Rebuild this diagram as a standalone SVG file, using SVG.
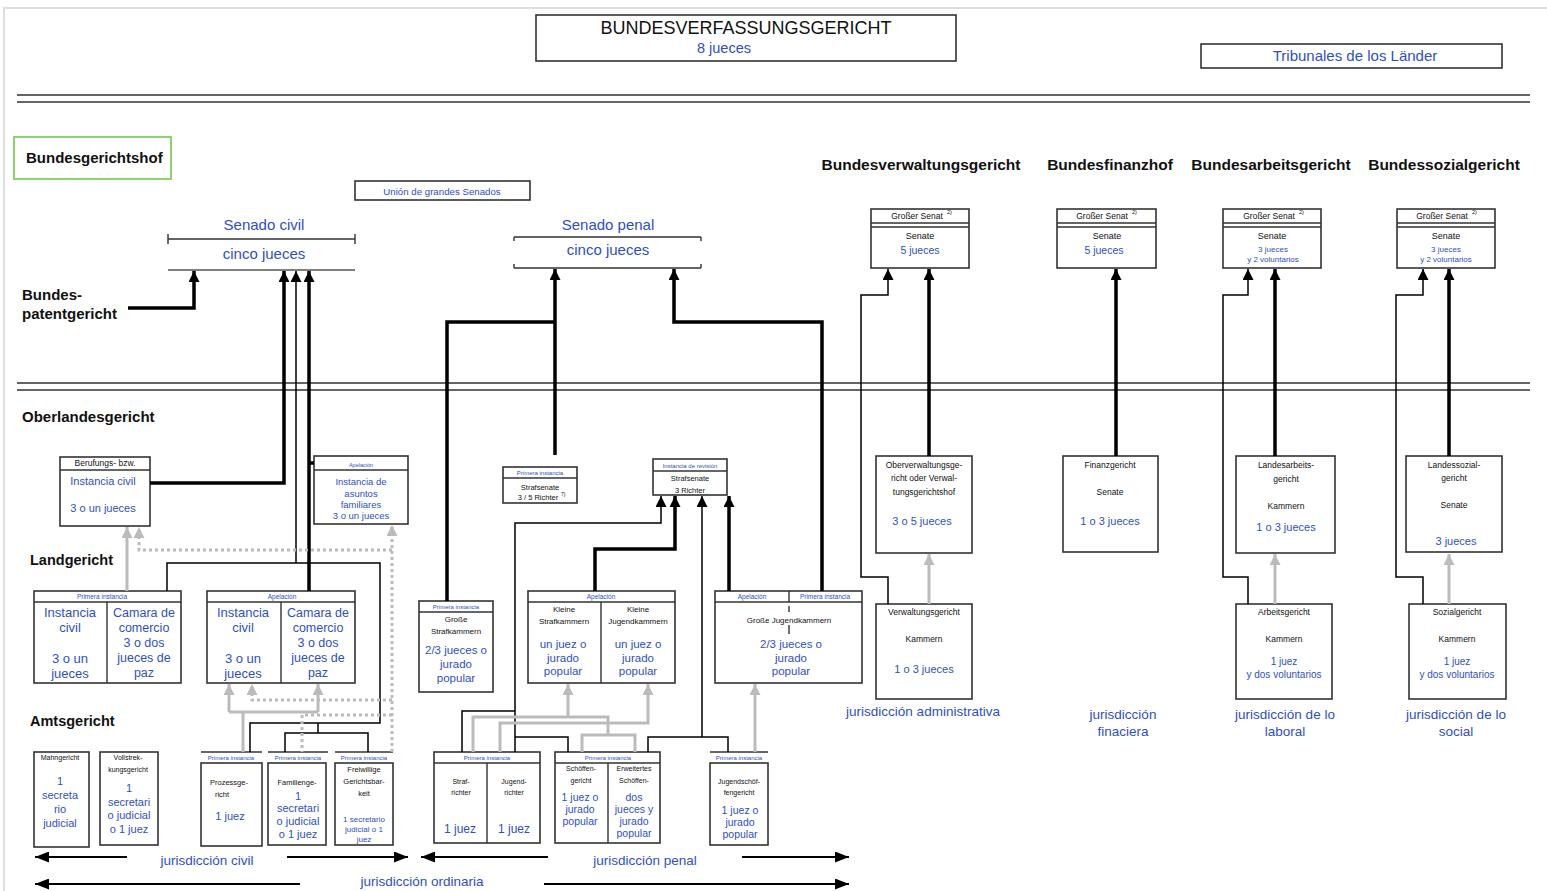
<svg xmlns="http://www.w3.org/2000/svg" width="1547" height="891" viewBox="0 0 1547 891">
<style>
text{font-family:"Liberation Sans",Arial,sans-serif}
.bx{fill:#fff;stroke:#333;stroke-width:1.6}
.ln{fill:none;stroke:#333;stroke-width:1.4}
.bl{fill:#2f4fbf}
.k{fill:#111}
.c{text-anchor:middle}
.bd{font-weight:bold;fill:#111}
.thk{fill:none;stroke:#000;stroke-width:3.5}
.thn{fill:none;stroke:#000;stroke-width:1.5}
.gr{fill:none;stroke:#bbb;stroke-width:3}
.gd{fill:none;stroke:#bbb;stroke-width:3;stroke-dasharray:3 3}
.ja{fill:none;stroke:#000;stroke-width:2}
</style>
<defs>
<marker id="ab" viewBox="0 0 10 10" refX="10" refY="5" markerWidth="11" markerHeight="11" markerUnits="userSpaceOnUse" orient="auto"><path d="M0,0L10,5L0,10z" fill="#000"/></marker>
<marker id="ag" viewBox="0 0 10 10" refX="10" refY="5" markerWidth="11" markerHeight="11" markerUnits="userSpaceOnUse" orient="auto"><path d="M0,0L10,5L0,10z" fill="#bbb"/></marker>
<marker id="aj" viewBox="0 0 10 10" refX="10" refY="5" markerWidth="14" markerHeight="11" markerUnits="userSpaceOnUse" orient="auto" preserveAspectRatio="none"><path d="M0,0L10,5L0,10z" fill="#000"/></marker>
</defs>
<rect width="1547" height="891" fill="#fff"/>
<path d="M4,891V8H1547" fill="none" stroke="#ddd" stroke-width="2"/>

<g id="bverfg">
<rect class="bx" x="536" y="15" width="420" height="46"/>
<text class="k c" x="746" y="34" font-size="18">BUNDESVERFASSUNGSGERICHT</text>
<text class="bl c" x="724" y="53" font-size="14.5">8 jueces</text>
</g>
<g id="laender">
<rect class="bx" x="1201" y="44" width="301" height="24"/>
<text class="bl c" x="1355" y="61" font-size="15">Tribunales de los Länder</text>
</g>
<g id="separators">
<path class="ln" d="M17,95H1530M17,102H1530M17,383H1530M17,390H1530"/>
</g>

<g id="bgh">
<rect x="14" y="137" width="157" height="42" fill="#fff" stroke="#8fd16a" stroke-width="2"/>
<text class="bd" x="26" y="163" font-size="15">Bundesgerichtshof</text>
</g>
<g id="union">
<rect class="bx" x="355" y="181" width="175" height="19"/>
<text class="bl c" x="442" y="195" font-size="9.7">Unión de grandes Senados</text>
</g>
<g id="senado-civil">
<text class="bl c" x="264" y="230" font-size="15">Senado civil</text>
<path class="ln" d="M168,239H355M168,234V244M355,234V244"/>
<text class="bl c" x="264" y="259" font-size="15">cinco jueces</text>
<path d="M168,270H355" fill="none" stroke="#555" stroke-width="1.3"/>
</g>
<g id="senado-penal">
<text class="bl c" x="608" y="230" font-size="15">Senado penal</text>
<path class="ln" d="M514,237H701M514,237V241M701,237V241"/>
<text class="bl c" x="608" y="255" font-size="15">cinco jueces</text>
<path class="ln" d="M514,268H701M514,264V268M701,264V268"/>
</g>
<g id="bpatg">
<text class="bd" x="22" y="300" font-size="15">Bundes-</text>
<text class="bd" x="22" y="319" font-size="15">patentgericht</text>
</g>
<g id="labels-left">
<text class="bd" x="22" y="422" font-size="15">Oberlandesgericht</text>
<text class="bd" x="30" y="565" font-size="14.5">Landgericht</text>
<text class="bd" x="30" y="726" font-size="14.5">Amtsgericht</text>
</g>

<g id="headers-right">
<text class="bd c" x="921" y="170" font-size="15.5">Bundesverwaltungsgericht</text>
<text class="bd c" x="1110" y="170" font-size="15.5">Bundesfinanzhof</text>
<text class="bd c" x="1271" y="170" font-size="15.5">Bundesarbeitsgericht</text>
<text class="bd c" x="1444" y="170" font-size="15.5">Bundessozialgericht</text>
</g>

<g id="gs-bverwg">
<rect class="bx" x="871" y="209" width="98" height="59"/>
<path class="ln" d="M871,223H969M871,227H969"/>
<text class="k c" x="917" y="219" font-size="8.5">Großer Senat</text><text class="k" x="947" y="214" font-size="5.5">2)</text>
<text class="k c" x="920" y="239" font-size="9">Senate</text>
<text class="bl c" x="920" y="254" font-size="10.5">5 jueces</text>
</g>
<g id="gs-bfh">
<rect class="bx" x="1057" y="209" width="99" height="59"/>
<path class="ln" d="M1057,223H1156M1057,227H1156"/>
<text class="k c" x="1102" y="219" font-size="8.5">Großer Senat</text><text class="k" x="1132" y="214" font-size="5.5">2)</text>
<text class="k c" x="1107" y="239" font-size="9">Senate</text>
<text class="bl c" x="1104" y="254" font-size="10.5">5 jueces</text>
</g>
<g id="gs-bag">
<rect class="bx" x="1223" y="209" width="98" height="59"/>
<path class="ln" d="M1223,223H1321M1223,227H1321"/>
<text class="k c" x="1269" y="219" font-size="8.5">Großer Senat</text><text class="k" x="1299" y="214" font-size="5.5">2)</text>
<text class="k c" x="1272" y="239" font-size="9">Senate</text>
<text class="bl c" x="1273" y="252" font-size="8">3 jueces</text>
<text class="bl c" x="1273" y="262" font-size="8">y 2 voluntarios</text>
</g>
<g id="gs-bsg">
<rect class="bx" x="1397" y="209" width="98" height="59"/>
<path class="ln" d="M1397,223H1495M1397,227H1495"/>
<text class="k c" x="1442" y="219" font-size="8.5">Großer Senat</text><text class="k" x="1472" y="214" font-size="5.5">2)</text>
<text class="k c" x="1446" y="239" font-size="9">Senate</text>
<text class="bl c" x="1446" y="252" font-size="8">3 jueces</text>
<text class="bl c" x="1446" y="262" font-size="8">y 2 voluntarios</text>
</g>

<g id="ovg">
<rect class="bx" x="876" y="456" width="96" height="97"/>
<text class="k c" x="924" y="468" font-size="8.5">Oberverwaltungsge-</text>
<text class="k c" x="924" y="481" font-size="8.5">richt oder Verwal-</text>
<text class="k c" x="924" y="495" font-size="8.5">tungsgerichtshof</text>
<text class="bl c" x="922" y="525" font-size="11">3 o 5 jueces</text>
</g>
<g id="fg">
<rect class="bx" x="1063" y="456" width="95" height="96"/>
<text class="k c" x="1110" y="468" font-size="8.5">Finanzgericht</text>
<text class="k c" x="1110" y="495" font-size="8.5">Senate</text>
<text class="bl c" x="1110" y="525" font-size="11">1 o 3 jueces</text>
</g>
<g id="lag">
<rect class="bx" x="1236" y="456" width="99" height="97"/>
<text class="k c" x="1286" y="468" font-size="8.5">Landesarbeits-</text>
<text class="k c" x="1286" y="482" font-size="8.5">gericht</text>
<text class="k c" x="1286" y="509" font-size="8.5">Kammern</text>
<text class="bl c" x="1286" y="531" font-size="11">1 o 3 jueces</text>
</g>
<g id="lsg">
<rect class="bx" x="1406" y="456" width="96" height="96"/>
<text class="k c" x="1454" y="468" font-size="8.5">Landessozial-</text>
<text class="k c" x="1454" y="481" font-size="8.5">gericht</text>
<text class="k c" x="1454" y="508" font-size="8.5">Senate</text>
<text class="bl c" x="1456" y="545" font-size="11">3 jueces</text>
</g>
<g id="vg">
<rect class="bx" x="876" y="604" width="96" height="95"/>
<text class="k c" x="924" y="615" font-size="8.5">Verwaltungsgericht</text>
<text class="k c" x="924" y="642" font-size="8.5">Kammern</text>
<text class="bl c" x="924" y="673" font-size="11">1 o 3 jueces</text>
</g>
<g id="arbg">
<rect class="bx" x="1236" y="604" width="96" height="95"/>
<text class="k c" x="1284" y="615" font-size="8.5">Arbeitsgericht</text>
<text class="k c" x="1284" y="642" font-size="8.5">Kammern</text>
<text class="bl c" x="1284" y="665" font-size="10">1 juez</text>
<text class="bl c" x="1284" y="678" font-size="10">y dos voluntarios</text>
</g>
<g id="sozg">
<rect class="bx" x="1409" y="604" width="97" height="95"/>
<text class="k c" x="1457" y="615" font-size="8.5">Sozialgericht</text>
<text class="k c" x="1457" y="642" font-size="8.5">Kammern</text>
<text class="bl c" x="1457" y="665" font-size="10">1 juez</text>
<text class="bl c" x="1457" y="678" font-size="10">y dos voluntarios</text>
</g>
<g id="jur-right">
<text class="bl c" x="923" y="716" font-size="13.5">jurisdicción administrativa</text>
<text class="bl c" x="1123" y="719" font-size="13.5">jurisdicción</text>
<text class="bl c" x="1123" y="736" font-size="13.5">finaciera</text>
<text class="bl c" x="1285" y="719" font-size="13.5">jurisdicción de lo</text>
<text class="bl c" x="1285" y="736" font-size="13.5">laboral</text>
<text class="bl c" x="1456" y="719" font-size="13.5">jurisdicción de lo</text>
<text class="bl c" x="1456" y="736" font-size="13.5">social</text>
</g>

<g id="olg-berufung">
<rect class="bx" x="60" y="457" width="90" height="69"/>
<path class="ln" d="M60,470H150"/>
<text class="k c" x="105" y="466" font-size="8.5">Berufungs- bzw.</text>
<text class="bl c" x="103" y="485" font-size="11">Instancia civil</text>
<text class="bl c" x="103" y="512" font-size="11">3 o un jueces</text>
</g>
<g id="olg-familia">
<rect class="bx" x="314" y="456" width="94" height="68"/>
<path class="ln" d="M314,470H408"/>
<text class="bl c" x="361" y="467" font-size="5.5">Apelación</text>
<text class="bl c" x="361" y="485" font-size="9.5">Instancia de</text>
<text class="bl c" x="361" y="497" font-size="9.5">asuntos</text>
<text class="bl c" x="361" y="508" font-size="9.5">familiares</text>
<text class="bl c" x="361" y="519" font-size="9.5">3 o un jueces</text>
</g>
<g id="olg-strafsenate">
<rect class="bx" x="503" y="467" width="74" height="36"/>
<path class="ln" d="M503,478H577"/>
<text class="bl c" x="540" y="475" font-size="6">Primera instancia</text>
<text class="k c" x="540" y="490" font-size="7.5">Strafsenate</text>
<text class="k c" x="538" y="500" font-size="7.5">3 / 5 Richter</text><text class="k" x="561" y="496" font-size="5">7)</text>
</g>
<g id="olg-revision">
<rect class="bx" x="653" y="459" width="74" height="36"/>
<path class="ln" d="M653,471H727"/>
<text class="bl c" x="690" y="468" font-size="6">Instancia de revisión</text>
<text class="k c" x="690" y="481" font-size="7.5">Strafsenate</text>
<text class="k c" x="690" y="493" font-size="7.5">3 Richter</text>
</g>

<g id="lg-primera">
<rect class="bx" x="34" y="591" width="147" height="92"/>
<path class="ln" d="M34,602H181M107,602V683"/>
<text class="bl c" x="102" y="599" font-size="6.5">Primera instancia</text>
<text class="bl c" x="70" y="617" font-size="13">Instancia</text>
<text class="bl c" x="70" y="632" font-size="13">civil</text>
<text class="bl c" x="70" y="663" font-size="13">3 o un</text>
<text class="bl c" x="70" y="678" font-size="13">jueces</text>
<text class="bl c" x="144" y="617" font-size="12.5">Camara de</text>
<text class="bl c" x="144" y="632" font-size="12.5">comercio</text>
<text class="bl c" x="144" y="647" font-size="12.5">3 o dos</text>
<text class="bl c" x="144" y="662" font-size="12.5">jueces de</text>
<text class="bl c" x="144" y="677" font-size="12.5">paz</text>
</g>
<g id="lg-apelacion">
<rect class="bx" x="207" y="591" width="148" height="92"/>
<path class="ln" d="M207,602H355M281,602V683"/>
<text class="bl c" x="282" y="599" font-size="6.5">Apelación</text>
<text class="bl c" x="243" y="617" font-size="13">Instancia</text>
<text class="bl c" x="243" y="632" font-size="13">civil</text>
<text class="bl c" x="243" y="663" font-size="13">3 o un</text>
<text class="bl c" x="243" y="678" font-size="13">jueces</text>
<text class="bl c" x="318" y="617" font-size="12.5">Camara de</text>
<text class="bl c" x="318" y="632" font-size="12.5">comercio</text>
<text class="bl c" x="318" y="647" font-size="12.5">3 o dos</text>
<text class="bl c" x="318" y="662" font-size="12.5">jueces de</text>
<text class="bl c" x="318" y="677" font-size="12.5">paz</text>
</g>
<g id="lg-grosse-straf">
<rect class="bx" x="419" y="601" width="74" height="91"/>
<path class="ln" d="M419,612H493"/>
<text class="bl c" x="456" y="609" font-size="6">Primera instancia</text>
<text class="k c" x="456" y="622" font-size="8">Große</text>
<text class="k c" x="456" y="634" font-size="8">Strafkammern</text>
<text class="bl c" x="456" y="654" font-size="11.5">2/3 jueces o</text>
<text class="bl c" x="456" y="668" font-size="11.5">jurado</text>
<text class="bl c" x="456" y="682" font-size="11.5">popular</text>
</g>
<g id="lg-kleine">
<rect class="bx" x="528" y="591" width="147" height="92"/>
<path class="ln" d="M528,602H675M601,602V683"/>
<text class="bl c" x="601" y="599" font-size="6.5">Apelación</text>
<text class="k c" x="564" y="612" font-size="8">Kleine</text>
<text class="k c" x="564" y="624" font-size="8">Strafkammern</text>
<text class="bl c" x="563" y="648" font-size="11.5">un juez o</text>
<text class="bl c" x="563" y="662" font-size="11.5">jurado</text>
<text class="bl c" x="563" y="675" font-size="11.5">popular</text>
<text class="k c" x="638" y="612" font-size="8">Kleine</text>
<text class="k c" x="638" y="624" font-size="8">Jugendkammern</text>
<text class="bl c" x="638" y="648" font-size="11.5">un juez o</text>
<text class="bl c" x="638" y="662" font-size="11.5">jurado</text>
<text class="bl c" x="638" y="675" font-size="11.5">popular</text>
</g>
<g id="lg-grosse-jugend">
<rect class="bx" x="715" y="591" width="147" height="92"/>
<path class="ln" d="M715,602H862M789,591V602M789,606V612M789,625V634"/>
<text class="bl c" x="752" y="599" font-size="6.5">Apelación</text>
<text class="bl c" x="825" y="599" font-size="6.5">Primera instancia</text>
<text class="k c" x="789" y="623" font-size="8">Große Jugendkammern</text>
<text class="bl c" x="791" y="648" font-size="11.5">2/3 jueces o</text>
<text class="bl c" x="791" y="662" font-size="11.5">jurado</text>
<text class="bl c" x="791" y="675" font-size="11.5">popular</text>
</g>

<g id="ag-mahn">
<rect class="bx" x="34" y="752" width="55" height="95"/>
<text class="k c" x="60" y="760" font-size="7">Mahngericht</text>
<text class="bl c" x="60" y="785" font-size="11">1</text>
<text class="bl c" x="60" y="799" font-size="11">secreta</text>
<text class="bl c" x="60" y="813" font-size="11">rio</text>
<text class="bl c" x="60" y="827" font-size="11">judicial</text>
</g>
<g id="ag-vollstreckung">
<rect class="bx" x="100" y="752" width="58" height="93"/>
<text class="k c" x="128" y="760" font-size="7">Vollstrek-</text>
<text class="k c" x="128" y="772" font-size="7">kungsgericht</text>
<text class="bl c" x="129" y="792" font-size="11">1</text>
<text class="bl c" x="129" y="806" font-size="11">secretari</text>
<text class="bl c" x="129" y="819" font-size="11">o judicial</text>
<text class="bl c" x="129" y="833" font-size="11">o 1 juez</text>
</g>
<g id="ag-prozess">
<path class="ln" d="M201,752H262"/>
<text class="bl c" x="231" y="760" font-size="6">Primera instancia</text>
<rect class="bx" x="201" y="763" width="61" height="83"/>
<text class="k c" x="229" y="785" font-size="7.5">Prozessge-</text>
<text class="k c" x="222" y="797" font-size="7.5">richt</text>
<text class="bl c" x="230" y="820" font-size="11">1 juez</text>
</g>
<g id="ag-familie">
<path class="ln" d="M268,752H328"/>
<text class="bl c" x="298" y="760" font-size="6">Primera instancia</text>
<rect class="bx" x="268" y="763" width="58" height="82"/>
<text class="k c" x="297" y="785" font-size="7.5">Familienge-</text>
<text class="bl c" x="298" y="800" font-size="11">1</text>
<text class="bl c" x="298" y="812" font-size="11">secretari</text>
<text class="bl c" x="298" y="825" font-size="11">o judicial</text>
<text class="bl c" x="298" y="838" font-size="11">o 1 juez</text>
</g>
<g id="ag-freiwillig">
<path class="ln" d="M335,752H393"/>
<text class="bl c" x="364" y="760" font-size="6">Primera instancia</text>
<rect class="bx" x="335" y="763" width="58" height="82"/>
<text class="k c" x="364" y="772" font-size="7.5">Freiwillige</text>
<text class="k c" x="364" y="784" font-size="7.5">Gerichtsbar-</text>
<text class="k c" x="364" y="796" font-size="7.5">keit</text>
<text class="bl c" x="364" y="822" font-size="8">1 secretario</text>
<text class="bl c" x="364" y="832" font-size="8">judicial o 1</text>
<text class="bl c" x="364" y="842" font-size="8">juez</text>
</g>
<g id="ag-straf-jugend">
<rect class="bx" x="434" y="752" width="106" height="91"/>
<path class="ln" d="M434,763H540M487,763V843"/>
<text class="bl c" x="487" y="760" font-size="6">Primera instancia</text>
<text class="k c" x="461" y="784" font-size="7">Straf-</text>
<text class="k c" x="461" y="795" font-size="7">richter</text>
<text class="k c" x="514" y="784" font-size="7">Jugend-</text>
<text class="k c" x="514" y="795" font-size="7">richter</text>
<text class="bl c" x="460" y="833" font-size="12">1 juez</text>
<text class="bl c" x="514" y="833" font-size="12">1 juez</text>
</g>
<g id="ag-schoeffen">
<rect class="bx" x="555" y="752" width="105" height="91"/>
<path class="ln" d="M555,763H660M608,763V843"/>
<text class="bl c" x="608" y="760" font-size="6">Primera instancia</text>
<text class="k c" x="581" y="771" font-size="7">Schöffen-</text>
<text class="k c" x="581" y="783" font-size="7">gericht</text>
<text class="bl c" x="580" y="801" font-size="10.5">1 juez o</text>
<text class="bl c" x="580" y="813" font-size="10.5">jurado</text>
<text class="bl c" x="580" y="825" font-size="10.5">popular</text>
<text class="k c" x="634" y="771" font-size="7">Erweitertes</text>
<text class="k c" x="634" y="783" font-size="7">Schöffen-</text>
<text class="bl c" x="634" y="801" font-size="10.5">dos</text>
<text class="bl c" x="634" y="813" font-size="10.5">jueces y</text>
<text class="bl c" x="634" y="825" font-size="10.5">jurado</text>
<text class="bl c" x="634" y="837" font-size="10.5">popular</text>
</g>
<g id="ag-jugendschoeffen">
<path class="ln" d="M710,752H768"/>
<text class="bl c" x="739" y="760" font-size="6">Primera instancia</text>
<rect class="bx" x="710" y="763" width="58" height="82"/>
<text class="k c" x="739" y="784" font-size="7">Jugendschöf-</text>
<text class="k c" x="739" y="795" font-size="7">fengericht</text>
<text class="bl c" x="740" y="814" font-size="10.5">1 juez o</text>
<text class="bl c" x="740" y="826" font-size="10.5">jurado</text>
<text class="bl c" x="740" y="838" font-size="10.5">popular</text>
</g>

<g id="jur-bottom">
<text class="bl c" x="207" y="865" font-size="13.5">jurisdicción civil</text>
<text class="bl c" x="422" y="886" font-size="13.5">jurisdicción ordinaria</text>
<text class="bl c" x="645" y="865" font-size="13.5">jurisdicción penal</text>
</g>

<g id="connectors">
<path class="ja" d="M127,857H35" marker-end="url(#aj)"/>
<path class="ja" d="M287,857H408" marker-end="url(#aj)"/>
<path class="ja" d="M300,884H35" marker-end="url(#aj)"/>
<path class="ja" d="M544,884H849" marker-end="url(#aj)"/>
<path class="ja" d="M548,857H421" marker-end="url(#aj)"/>
<path class="ja" d="M742,857H849" marker-end="url(#aj)"/>

<path class="thk" d="M128,308H194V271" marker-end="url(#ab)"/>
<path class="thk" d="M150,483H284V271" marker-end="url(#ab)"/>
<path class="thn" d="M296,563V271" marker-end="url(#ab)"/>
<path class="thk" d="M309,591V271" marker-end="url(#ab)"/>
<path class="thk" d="M309,463H314"/>
<path class="thn" d="M167,591V563H380V723H250V752M318,723V733M285,752V733H368V752"/>
<path class="gr" d="M127,591V527" marker-end="url(#ag)"/>
<path class="gr" d="M243,752V712M229,712H318"/>
<path class="gr" d="M229,712V684" marker-end="url(#ag)"/>
<path class="gr" d="M318,712V684" marker-end="url(#ag)"/>
<path class="gd" d="M392,752V525" marker-end="url(#ag)"/>
<path class="gd" d="M392,550H139V527" marker-end="url(#ag)"/>
<path class="gd" d="M392,700H252V684" marker-end="url(#ag)"/>
<path class="gd" d="M392,715H302V752"/>

<path class="thk" d="M555,455V269" marker-end="url(#ab)"/>
<path class="thk" d="M447,601V322H555"/>
<path class="thk" d="M822,591V322H674V269" marker-end="url(#ab)"/>
<path class="thn" d="M515,752V523H661V496" marker-end="url(#ab)"/>
<path class="thn" d="M462,752V711H515M568,752V737H515"/>
<path class="thk" d="M595,591V549H675V496" marker-end="url(#ab)"/>
<path class="thn" d="M702,737V496" marker-end="url(#ab)"/>
<path class="thn" d="M648,752V737H728V752"/>
<path class="thk" d="M729,591V496" marker-end="url(#ab)"/>
<path class="gr" d="M473,752V717H608V735M582,752V735H635V752"/>
<path class="gr" d="M568,717V684" marker-end="url(#ag)"/>
<path class="gr" d="M500,752V723H648V684" marker-end="url(#ag)"/>
<path class="gr" d="M755,752V684" marker-end="url(#ag)"/>

<path class="thk" d="M929,456V269" marker-end="url(#ab)"/>
<path class="thn" d="M888,604V577H861V295H888V269" marker-end="url(#ab)"/>
<path class="thk" d="M1116,456V269" marker-end="url(#ab)"/>
<path class="thk" d="M1275,456V269" marker-end="url(#ab)"/>
<path class="thn" d="M1248,604V577H1223V295H1248V269" marker-end="url(#ab)"/>
<path class="thk" d="M1449,456V269" marker-end="url(#ab)"/>
<path class="thn" d="M1423,604V577H1396V295H1423V269" marker-end="url(#ab)"/>
<path class="gr" d="M929,604V554" marker-end="url(#ag)"/>
<path class="gr" d="M1275,604V554" marker-end="url(#ag)"/>
<path class="gr" d="M1449,604V554" marker-end="url(#ag)"/>
</g>
</svg>
